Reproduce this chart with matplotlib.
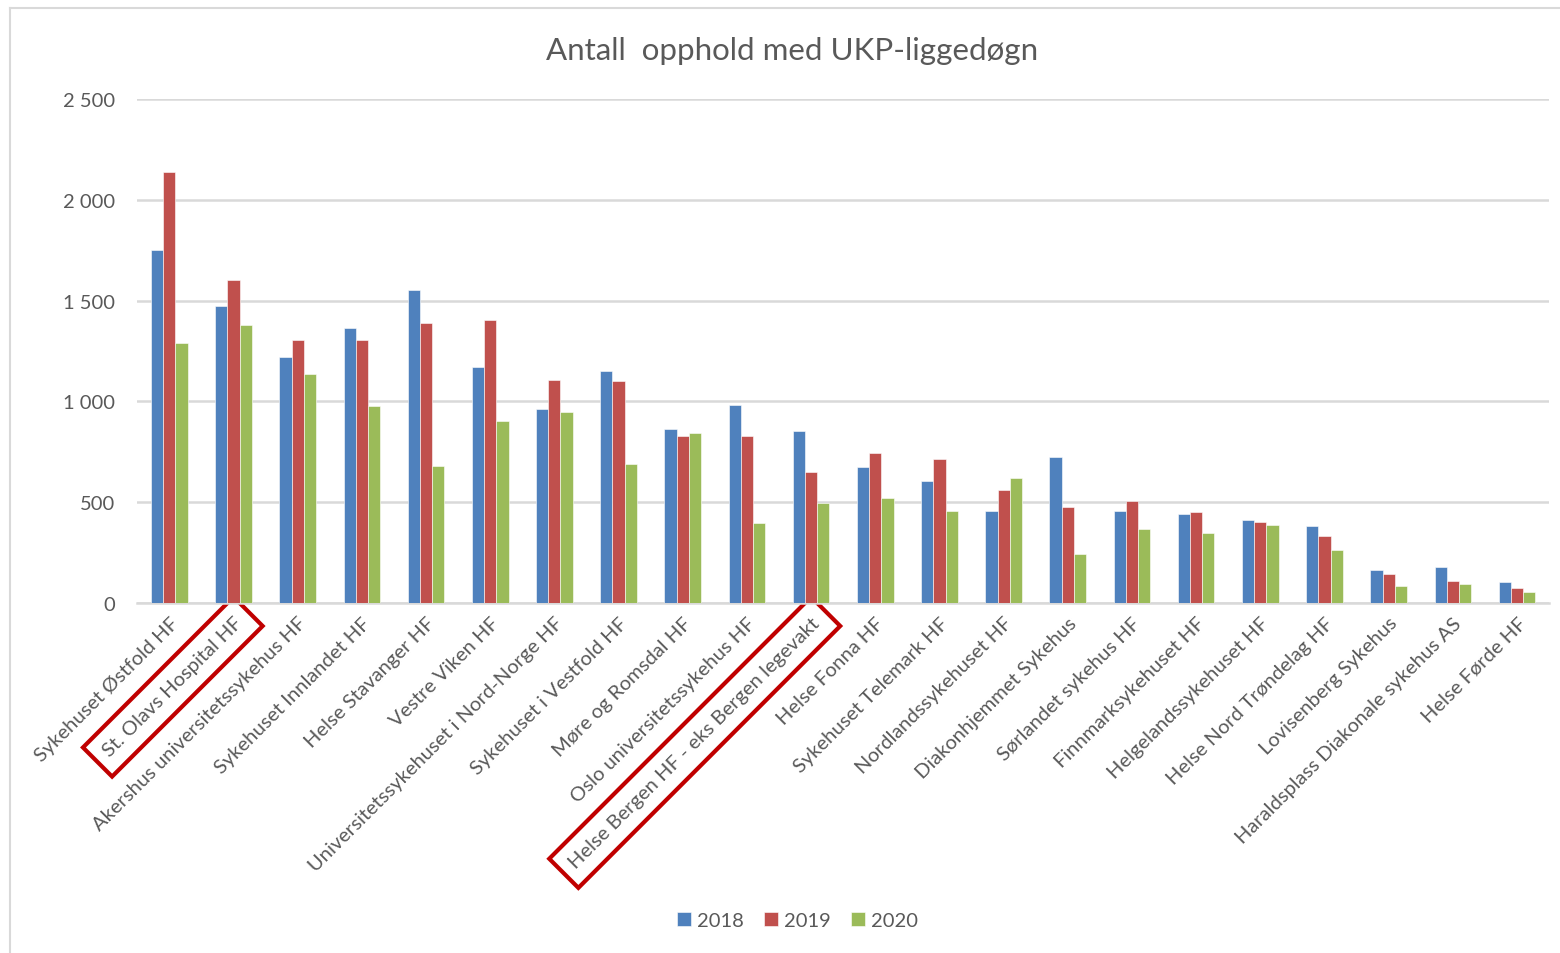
import numpy as np
import matplotlib.pyplot as plt
from matplotlib.lines import Line2D
from matplotlib.ticker import FuncFormatter

plt.rcParams['font.family'] = ['Lato', 'DejaVu Sans']

hospitals = ['Sykehuset Østfold HF', 'St. Olavs Hospital HF', 'Akershus universitetssykehus HF',
             'Sykehuset Innlandet HF', 'Helse Stavanger HF', 'Vestre Viken HF',
             'Universitetssykehuset i Nord-Norge HF', 'Sykehuset i Vestfold HF', 'Møre og Romsdal HF',
             'Oslo universitetssykehus HF', 'Helse Bergen HF - eks Bergen legevakt', 'Helse Fonna HF',
             'Sykehuset Telemark HF', 'Nordlandssykehuset HF', 'Diakonhjemmet Sykehus',
             'Sørlandet sykehus HF', 'Finnmarksykehuset HF', 'Helgelandssykehuset HF',
             'Helse Nord Trøndelag HF', 'Lovisenberg Sykehus', 'Haraldsplass Diakonale sykehus AS',
             'Helse Førde HF']

v2018 = [1750, 1474, 1220, 1366, 1555, 1172, 960, 1149, 861, 984, 855, 672,
         607, 458, 723, 458, 440, 410, 382, 163, 180, 103]
v2019 = [2139, 1603, 1303, 1303, 1391, 1403, 1108, 1101, 826, 826, 649, 743,
         713, 560, 475, 505, 452, 403, 333, 143, 110, 73]
v2020 = [1292, 1379, 1138, 979, 681, 903, 949, 691, 843, 396, 497, 523,
         458, 618, 245, 368, 345, 387, 263, 85, 92, 55]

years = ['2018', '2019', '2020']
colors = ['#4F81BD', '#C0504D', '#9BBB59']
highlight = ['St. Olavs Hospital HF', 'Helse Bergen HF - eks Bergen legevakt']

fig = plt.figure(figsize=(15.6, 9.54), dpi=100)
ax = fig.add_axes([0.088, 0.367, 0.905, 0.528])

x = np.arange(len(hospitals))
w = 0.19
for k, (vals, c, lab) in enumerate(zip([v2018, v2019, v2020], colors, years)):
    ax.bar(x + (k - 1) * w, vals, w, color=c, edgecolor='white', linewidth=0.4, label=lab, zorder=3)

ax.set_xlim(-0.5, len(hospitals) - 0.5)
ax.set_ylim(0, 2500)
ax.set_yticks(np.arange(0, 2501, 500))
ax.yaxis.set_major_formatter(FuncFormatter(lambda v, p: f'{int(v):,}'.replace(',', ' ')))
ax.grid(axis='y', color='#D9D9D9', linewidth=1.8, zorder=0)
for s in ['top', 'right', 'left']:
    ax.spines[s].set_visible(False)
ax.spines['bottom'].set_color('#D9D9D9')
ax.spines['bottom'].set_linewidth(1.8)
ax.tick_params(axis='both', length=0, colors='#595959', labelsize=14.5)
ax.tick_params(axis='y', pad=16)
ax.tick_params(axis='x', pad=8)

ax.set_xticks(x)
ax.set_xticklabels(hospitals, rotation=45, ha='right', rotation_mode='anchor')
for t in ax.get_xticklabels():
    if t.get_text() in highlight:
        t.set_bbox(dict(boxstyle='square,pad=0.6', fc='none', ec='#C00000', lw=3))

fig.text(0.508, 0.947, 'Antall  opphold med UKP-liggedøgn', color='#595959',
         fontsize=22.5, ha='center', va='center')

fig.legend(loc='center', bbox_to_anchor=(0.511, 0.034), ncol=3, frameon=False,
           fontsize=14.5, labelcolor='#595959', handlelength=0.7, handleheight=0.7,
           handletextpad=0.3, columnspacing=1.0)

# screenshot frame lines
fig.add_artist(Line2D([0.0065, 1], [0.991, 0.991], color='#D9D9D9', lw=1.5))
fig.add_artist(Line2D([0.0065, 0.0065], [0, 0.991], color='#D9D9D9', lw=1.5))

fig.savefig('out.png', dpi=100)
